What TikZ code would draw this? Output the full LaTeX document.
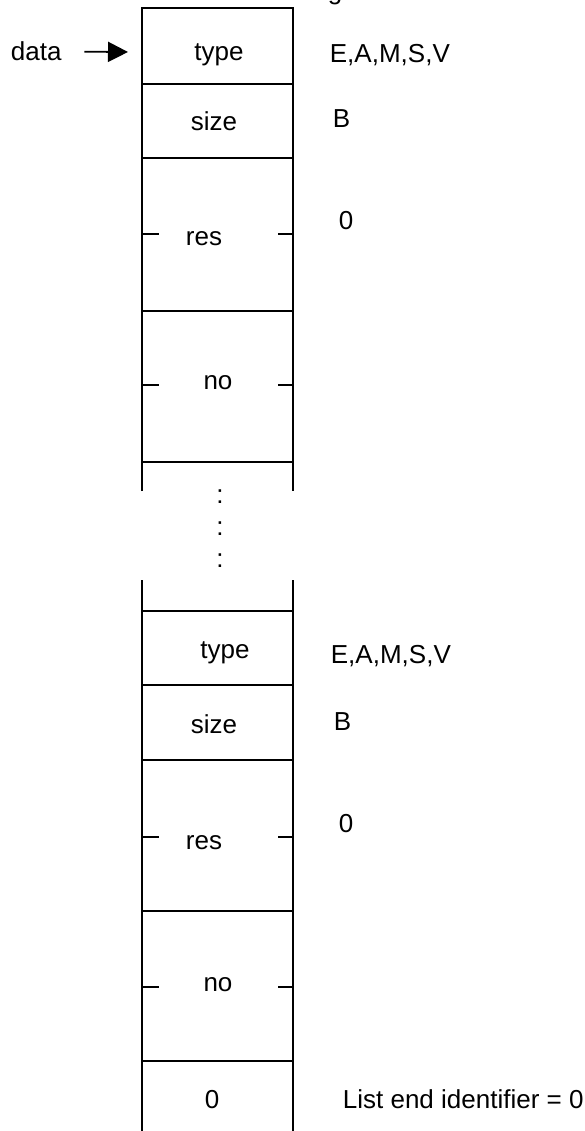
\documentclass[tikz,border=0pt]{standalone}
\usepackage{fontspec}
\setmainfont{Liberation Sans}
\usetikzlibrary{arrows.meta}
\begin{document}
\begin{tikzpicture}[x=1pt,y=-1pt,line width=1.8pt,
  lbl/.style={inner sep=0pt,anchor=base,font=\fontsize{26}{30}\selectfont},
  lbll/.style={lbl,anchor=base west},
  wall/.style={line width=1.8pt},
  tick/.style={line width=1.8pt},
  inarrow/.style={line width=1.8pt,-{Triangle[length=20pt,width=20pt]}}]
\useasboundingbox (0,0) rectangle (585,1131);
\clip (0,0) rectangle (585,1131);
% ---------- upper stack ----------
\draw[wall] (142,491) -- (142,8) -- (293,8) -- (293,491);
\foreach \y in {84,158,311,462} \draw[wall] (142,\y) -- (293,\y);
\foreach \y in {234,385} {\draw[tick] (142,\y) -- (159,\y); \draw[tick] (278,\y) -- (293,\y);}
\node[lbll] (g) at (327,0) {g};
\node[lbl] (type1) at (219,61) {type};
\node[lbll] (eams1) at (329,63) {E,A,M,S,V};
\node[lbl] (size1) at (214,131) {size};
\node[lbll] (b1) at (332,128) {B};
\node[lbl] (res1) at (204,246) {res};
\node[lbll] (z1) at (338,230) {0};
\node[lbl] (no1) at (218,389) {no};
\node[lbll] (data) at (10,61) {data};
\coordinate (in) at (128,52);
\draw[inarrow] ([xshift=22pt]data.east) -- (in);
% ---------- dots ----------
\node[lbl] (c1) at (220,503) {:};
\node[lbl] (c2) at (220,535) {:};
\node[lbl] (c3) at (220,567) {:};
% ---------- lower stack ----------
\draw[wall] (142,580) -- (142,1140);
\draw[wall] (293,580) -- (293,1140);
\foreach \y in {611,685,760,911,1061} \draw[wall] (142,\y) -- (293,\y);
\foreach \y in {837,987} {\draw[tick] (142,\y) -- (159,\y); \draw[tick] (278,\y) -- (293,\y);}
\node[lbl] (type2) at (225,658) {type};
\node[lbll] (eams2) at (330,663) {E,A,M,S,V};
\node[lbl] (size2) at (214,733) {size};
\node[lbll] (b2) at (333,730) {B};
\node[lbl] (res2) at (204,849) {res};
\node[lbll] (z2) at (338,832) {0};
\node[lbl] (no2) at (218,991) {no};
\node[lbl] (z3) at (212,1108) {0};
\node[lbll] (endid) at (342,1108) {List end identifier = 0};
\end{tikzpicture}
\end{document}
